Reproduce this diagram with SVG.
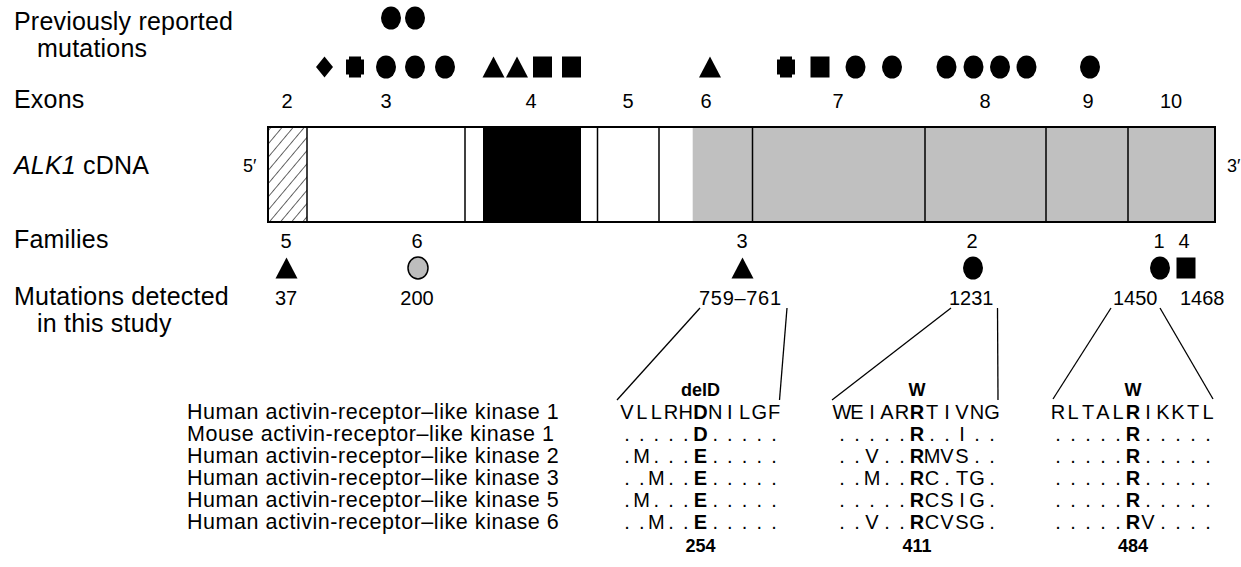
<svg xmlns="http://www.w3.org/2000/svg" width="1241" height="567" viewBox="0 0 1241 567">
<defs>
<pattern id="hatch" patternUnits="userSpaceOnUse" width="8.5" height="8.5" patternTransform="rotate(40)"><line x1="0" y1="-1" x2="0" y2="9.5" stroke="#000" stroke-width="1.2"/></pattern>
<ellipse id="dot" rx="10" ry="11.5"/>
<polygon id="tri" points="0,-10.5 11,10.5 -11,10.5"/>
<rect id="sq" x="-9.5" y="-10.5" width="19" height="21"/>
<polygon id="dia" points="0,-10.5 8.5,0 0,10.5 -8.5,0"/>
<polygon id="crs" points="-6,-10.5 6,-10.5 6,-7.5 9,-7.5 9,7.5 6,7.5 6,10.5 -6,10.5 -6,7.5 -9,7.5 -9,-7.5 -6,-7.5"/>
</defs>
<style>
text{font-family:"Liberation Sans",Arial,Helvetica,sans-serif;fill:#000}
.lbl{font-size:25px;letter-spacing:0.2px}
.num{font-size:20px;text-anchor:middle}
.mut{font-size:20px}
.prime{font-size:18px}
.kin{font-size:21.5px;letter-spacing:0.55px}
.seq{font-size:20px;text-anchor:middle}
.b{font-weight:bold}
.hdr{font-size:18px;font-weight:bold;text-anchor:middle}
.sym{fill:#000}
.cell{stroke:#000;stroke-width:1.5}
.conn{stroke:#000;stroke-width:1.3;fill:none}
</style>

<g id="row-labels">
<text class="lbl" x="14" y="30">Previously reported</text>
<text class="lbl" x="37" y="57">mutations</text>
<text class="lbl" x="14" y="108">Exons</text>
<text class="lbl" x="14" y="174"><tspan font-style="italic">ALK1</tspan> cDNA</text>
<text class="lbl" x="14" y="248">Families</text>
<text class="lbl" x="14" y="305">Mutations detected</text>
<text class="lbl" x="37" y="332">in this study</text>
</g>

<g id="previous-mutations" class="sym">
<use href="#dot" x="391" y="18"/>
<use href="#dot" x="415" y="18"/>
<use href="#dia" x="324.5" y="67"/>
<use href="#crs" x="355" y="67"/>
<use href="#dot" x="386" y="67"/>
<use href="#dot" x="415" y="67"/>
<use href="#dot" x="445" y="67"/>
<use href="#tri" x="493.5" y="67"/>
<use href="#tri" x="517" y="67"/>
<use href="#sq" x="542.5" y="67"/>
<use href="#sq" x="571.5" y="67"/>
<use href="#tri" x="710" y="67"/>
<use href="#crs" x="786" y="67"/>
<use href="#sq" x="820" y="67"/>
<use href="#dot" x="855.5" y="67"/>
<use href="#dot" x="892" y="67"/>
<use href="#dot" x="946.5" y="67"/>
<use href="#dot" x="973.5" y="67"/>
<use href="#dot" x="1000" y="67"/>
<use href="#dot" x="1026.5" y="67"/>
<use href="#dot" x="1090" y="67"/>
</g>

<g id="exon-numbers">
<text class="num" x="287" y="108">2</text>
<text class="num" x="386" y="108">3</text>
<text class="num" x="531" y="108">4</text>
<text class="num" x="628" y="108">5</text>
<text class="num" x="706" y="108">6</text>
<text class="num" x="838" y="108">7</text>
<text class="num" x="985" y="108">8</text>
<text class="num" x="1088" y="108">9</text>
<text class="num" x="1171" y="108">10</text>
</g>

<g id="alk1-cdna">
<text class="prime" x="243" y="172">5′</text>
<text class="prime" x="1227" y="172">3′</text>
<rect x="268" y="127" width="39" height="95" fill="url(#hatch)"/>
<rect x="483" y="127" width="98" height="95" fill="#000"/>
<rect x="692.7" y="127" width="522.3" height="95" fill="#c0c0c0"/>
<line class="cell" x1="307" y1="127" x2="307" y2="222"/>
<line class="cell" x1="465" y1="127" x2="465" y2="222"/>
<line class="cell" x1="597.5" y1="127" x2="597.5" y2="222"/>
<line class="cell" x1="659" y1="127" x2="659" y2="222"/>
<line class="cell" x1="752.5" y1="127" x2="752.5" y2="222"/>
<line class="cell" x1="925" y1="127" x2="925" y2="222"/>
<line class="cell" x1="1046" y1="127" x2="1046" y2="222"/>
<line class="cell" x1="1128" y1="127" x2="1128" y2="222"/>
<rect x="268" y="127" width="947" height="95" fill="none" stroke="#000" stroke-width="2"/>
</g>

<g id="families">
<text class="num" x="286" y="248">5</text>
<text class="num" x="417" y="248">6</text>
<text class="num" x="742" y="248">3</text>
<text class="num" x="972" y="248">2</text>
<text class="num" x="1159" y="248">1</text>
<text class="num" x="1184" y="248">4</text>
<use href="#tri" x="286.5" y="268" class="sym"/>
<ellipse cx="418" cy="268" rx="10" ry="11" fill="#bdbdbd" stroke="#000" stroke-width="1.5"/>
<use href="#tri" x="742.5" y="268" class="sym"/>
<use href="#dot" x="973" y="268" class="sym"/>
<use href="#dot" x="1160" y="268" class="sym"/>
<use href="#sq" x="1186" y="268" class="sym"/>
</g>

<g id="detected">
<text class="num" x="286" y="305">37</text>
<text class="num" x="417" y="305">200</text>
<text class="mut" x="699" y="305" letter-spacing="0.7">759–761</text>
<text class="mut" x="949" y="305">1231</text>
<text class="mut" x="1113" y="305">1450</text>
<text class="mut" x="1180" y="305">1468</text>
</g>

<g id="connectors">
<line class="conn" x1="700" y1="308" x2="617" y2="400"/>
<line class="conn" x1="787" y1="308" x2="779.5" y2="400"/>
<line class="conn" x1="951" y1="308" x2="832" y2="400"/>
<line class="conn" x1="997.5" y1="308" x2="998" y2="400"/>
<line class="conn" x1="1111" y1="308" x2="1053" y2="399"/>
<line class="conn" x1="1160" y1="308" x2="1213" y2="399"/>
</g>

<g id="species">
<text class="kin" x="187" y="419">Human activin-receptor–like kinase 1</text>
<text class="kin" x="187" y="441">Mouse activin-receptor–like kinase 1</text>
<text class="kin" x="187" y="463">Human activin-receptor–like kinase 2</text>
<text class="kin" x="187" y="485">Human activin-receptor–like kinase 3</text>
<text class="kin" x="187" y="507">Human activin-receptor–like kinase 5</text>
<text class="kin" x="187" y="529">Human activin-receptor–like kinase 6</text>
</g>

<g id="block-254">
<text class="hdr" x="700.5" y="396">delD</text>
<text class="seq" x="627 641.7 656.4 671.1 685.8" y="419">VLLRH</text><text class="seq b" x="700.5" y="419">D</text><text class="seq" x="715.2 729.9 744.6 759.3 774" y="419">NILGF</text>
<text class="seq" x="627 641.7 656.4 671.1 685.8" y="441">.....</text><text class="seq b" x="700.5" y="441">D</text><text class="seq" x="715.2 729.9 744.6 759.3 774" y="441">.....</text>
<text class="seq" x="627 641.7 656.4 671.1 685.8" y="463">.M...</text><text class="seq b" x="700.5" y="463">E</text><text class="seq" x="715.2 729.9 744.6 759.3 774" y="463">.....</text>
<text class="seq" x="627 641.7 656.4 671.1 685.8" y="485">..M..</text><text class="seq b" x="700.5" y="485">E</text><text class="seq" x="715.2 729.9 744.6 759.3 774" y="485">.....</text>
<text class="seq" x="627 641.7 656.4 671.1 685.8" y="507">.M...</text><text class="seq b" x="700.5" y="507">E</text><text class="seq" x="715.2 729.9 744.6 759.3 774" y="507">.....</text>
<text class="seq" x="627 641.7 656.4 671.1 685.8" y="529">..M..</text><text class="seq b" x="700.5" y="529">E</text><text class="seq" x="715.2 729.9 744.6 759.3 774" y="529">.....</text>
<text class="hdr" x="700.5" y="552">254</text>
</g>

<g id="block-411">
<text class="hdr" x="917" y="396">W</text>
<text class="seq" x="842 857 872 887 902" y="419">WEIAR</text><text class="seq b" x="917" y="419">R</text><text class="seq" x="932 947 962 977 992" y="419">TIVNG</text>
<text class="seq" x="842 857 872 887 902" y="441">.....</text><text class="seq b" x="917" y="441">R</text><text class="seq" x="932 947 962 977 992" y="441">..I..</text>
<text class="seq" x="842 857 872 887 902" y="463">..V..</text><text class="seq b" x="917" y="463">R</text><text class="seq" x="932 947 962 977 992" y="463">MVS..</text>
<text class="seq" x="842 857 872 887 902" y="485">..M..</text><text class="seq b" x="917" y="485">R</text><text class="seq" x="932 947 962 977 992" y="485">C.TG.</text>
<text class="seq" x="842 857 872 887 902" y="507">.....</text><text class="seq b" x="917" y="507">R</text><text class="seq" x="932 947 962 977 992" y="507">CSIG.</text>
<text class="seq" x="842 857 872 887 902" y="529">..V..</text><text class="seq b" x="917" y="529">R</text><text class="seq" x="932 947 962 977 992" y="529">CVSG.</text>
<text class="hdr" x="917" y="552">411</text>
</g>

<g id="block-484">
<text class="hdr" x="1133" y="396">W</text>
<text class="seq" x="1058 1073 1088 1103 1118" y="419">RLTAL</text><text class="seq b" x="1133" y="419">R</text><text class="seq" x="1148 1163 1178 1193 1208" y="419">IKKTL</text>
<text class="seq" x="1058 1073 1088 1103 1118" y="441">.....</text><text class="seq b" x="1133" y="441">R</text><text class="seq" x="1148 1163 1178 1193 1208" y="441">.....</text>
<text class="seq" x="1058 1073 1088 1103 1118" y="463">.....</text><text class="seq b" x="1133" y="463">R</text><text class="seq" x="1148 1163 1178 1193 1208" y="463">.....</text>
<text class="seq" x="1058 1073 1088 1103 1118" y="485">.....</text><text class="seq b" x="1133" y="485">R</text><text class="seq" x="1148 1163 1178 1193 1208" y="485">.....</text>
<text class="seq" x="1058 1073 1088 1103 1118" y="507">.....</text><text class="seq b" x="1133" y="507">R</text><text class="seq" x="1148 1163 1178 1193 1208" y="507">.....</text>
<text class="seq" x="1058 1073 1088 1103 1118" y="529">.....</text><text class="seq b" x="1133" y="529">R</text><text class="seq" x="1148 1163 1178 1193 1208" y="529">V....</text>
<text class="hdr" x="1133" y="552">484</text>
</g>
</svg>
